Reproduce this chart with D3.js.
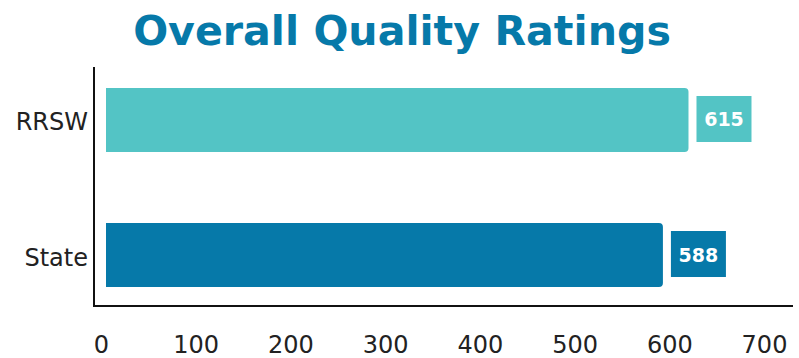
<!DOCTYPE html>
<html><head><meta charset="utf-8">
<script src="https://cdn.jsdelivr.net/npm/d3@7"></script>
<style>body{margin:0;background:#fff}svg{display:block}</style>
</head><body>
<svg id="c" width="799" height="358"></svg>
<script>
const categories = ["RRSW", "State"];
const values = [615, 588];
const colors = ["#53C4C5", "#0679A9"];
const tickValues = [0, 100, 200, 300, 400, 500, 600, 700];
const title = "Overall Quality Ratings";

const svg = d3.select("#c");
const font = "'DejaVu Sans', sans-serif";

const x = d3.scaleLinear().domain([0, 700]).range([106, 769]);
const y = d3.scaleBand().domain(categories).range([54.25, 320.75]).paddingInner(0.526).paddingOuter(0.25);

// title
const t = svg.append("text").text(title)
  .attr("x", 402).attr("y", 45).attr("text-anchor", "middle")
  .attr("fill", "#0679A9").attr("font-family", font).attr("font-weight", "bold")
  .attr("font-size", 44);
const w = t.node().getComputedTextLength();
t.attr("font-size", 44 * 538 / w);

// axes lines
svg.append("line").attr("x1", 94).attr("x2", 94).attr("y1", 67).attr("y2", 307)
  .attr("stroke", "#111").attr("stroke-width", 2);
svg.append("line").attr("x1", 93).attr("x2", 793).attr("y1", 306).attr("y2", 306)
  .attr("stroke", "#111").attr("stroke-width", 2);

// bars with rounded right corners
function barPath(x0, x1, y0, h, r) {
  return `M${x0},${y0}H${x1 - r}Q${x1},${y0} ${x1},${y0 + r}V${y0 + h - r}Q${x1},${y0 + h} ${x1 - r},${y0 + h}H${x0}Z`;
}
const data = categories.map((c, i) => ({c, v: values[i], col: colors[i]}));
svg.selectAll("path.bar").data(data).join("path").attr("class", "bar")
  .attr("d", d => barPath(x(0), x(d.v), y(d.c), y.bandwidth(), 4))
  .attr("fill", d => d.col);

// value boxes
const bw = 55, bh = 46;
svg.selectAll("rect.lab").data(data).join("rect").attr("class", "lab")
  .attr("x", d => x(d.v) + 8).attr("y", d => y(d.c) + y.bandwidth() / 2 - bh / 2 - 1)
  .attr("width", bw).attr("height", bh).attr("fill", d => d.col);
svg.selectAll("text.lab").data(data).join("text").attr("class", "lab")
  .attr("x", d => x(d.v) + 8 + bw / 2).attr("y", d => y(d.c) + y.bandwidth() / 2 + 6.5)
  .attr("text-anchor", "middle").attr("fill", "#fff").attr("font-family", font)
  .attr("font-weight", "bold").attr("font-size", 19).text(d => d.v);

// category labels
svg.selectAll("text.cat").data(data).join("text").attr("class", "cat")
  .attr("x", 88).attr("y", d => y(d.c) + y.bandwidth() / 2 + 10.5)
  .attr("text-anchor", "end").attr("fill", "#222").attr("font-family", font)
  .attr("font-size", 24).text(d => d.c);

// x axis ticks
const ax = svg.append("g").attr("transform", "translate(-5,353)")
  .call(d3.axisBottom(x).tickValues(tickValues).tickSize(0).tickFormat(d3.format("d")));
ax.select(".domain").remove();
ax.selectAll("text").attr("font-family", font).attr("font-size", 24).attr("fill", "#222").attr("dy", 0).attr("y", 0);
</script>
</body></html>
